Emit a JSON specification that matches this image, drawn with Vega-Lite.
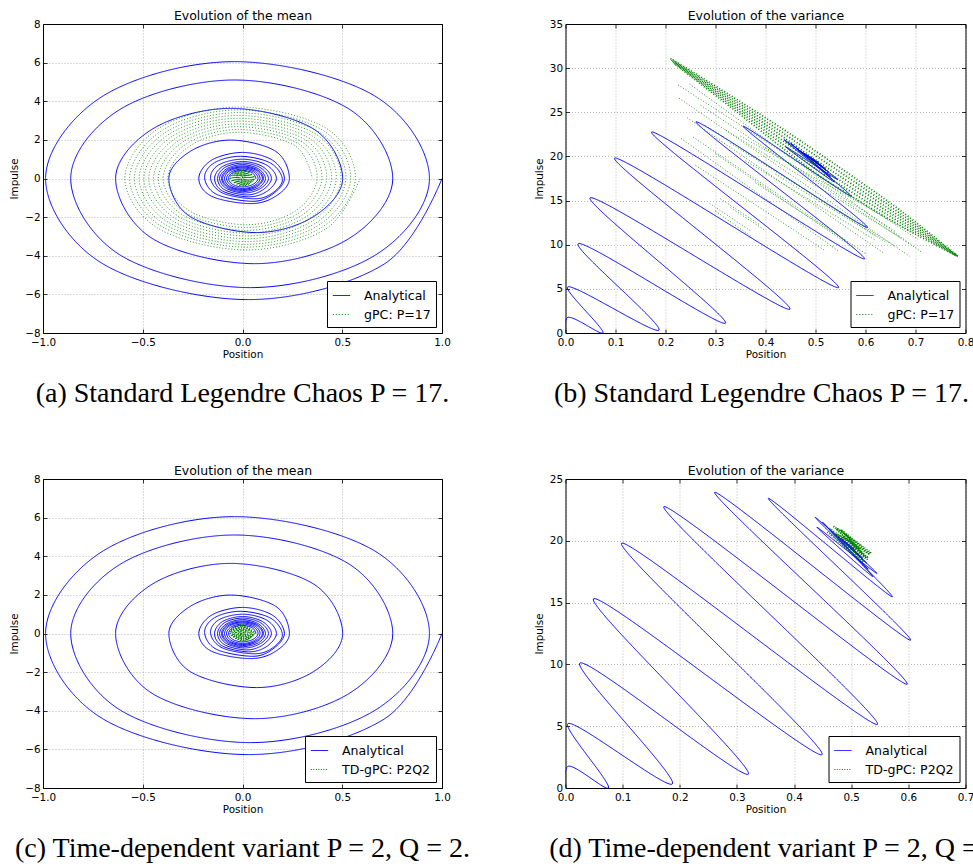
{
"$schema": "https://vega.github.io/schema/vega-lite/v6.json",
"background": "white",
"padding": {"left": 9, "top": 9, "right": 0, "bottom": 0},
"columns": 2,
"align": "each",
"bounds": "flush",
"spacing": {"row": 146, "column": 123.5},
"resolve": {"scale": {"color": "independent", "strokeDash": "independent", "x": "independent", "y": "independent"}},
"datasets": {
"mean_an": [{"i":0,"x":1.0,"y":0},{"i":1,"x":0.71,"y":-4.43},{"i":2,"x":0.03,"y":-6.27},{"i":3,"x":-0.698,"y":-4.43},{"i":4,"x":-0.987,"y":0},{"i":5,"x":-0.698,"y":4.28},{"i":6,"x":-0.04,"y":6.05},{"i":7,"x":0.662,"y":4.28},{"i":8,"x":0.937,"y":0},{"i":9,"x":0.662,"y":-3.99},{"i":10,"x":0.04,"y":-5.65},{"i":11,"x":-0.609,"y":-3.99},{"i":12,"x":-0.861,"y":0},{"i":13,"x":-0.609,"y":3.61},{"i":14,"x":-0.04,"y":5.1},{"i":15,"x":0.532,"y":3.61},{"i":16,"x":0.753,"y":0},{"i":17,"x":0.532,"y":-3.12},{"i":18,"x":0.06,"y":-4.41},{"i":19,"x":-0.45,"y":-3.12},{"i":20,"x":-0.636,"y":0},{"i":21,"x":-0.45,"y":2.57},{"i":22,"x":-0.06,"y":3.63},{"i":23,"x":0.355,"y":2.57},{"i":24,"x":0.502,"y":0},{"i":25,"x":0.355,"y":-1.98},{"i":26,"x":0.07,"y":-2.8},{"i":27,"x":-0.261,"y":-1.98},{"i":28,"x":-0.369,"y":0},{"i":29,"x":-0.261,"y":1.41},{"i":30,"x":-0.06,"y":1.99},{"i":31,"x":0.166,"y":1.41},{"i":32,"x":0.235,"y":0},{"i":33,"x":0.166,"y":-0.92},{"i":34,"x":0.04,"y":-1.3},{"i":35,"x":-0.155,"y":-0.92},{"i":36,"x":-0.219,"y":0},{"i":37,"x":-0.155,"y":0.95},{"i":38,"x":0,"y":1.35},{"i":39,"x":0.15,"y":0.95},{"i":40,"x":0.21,"y":0},{"i":41,"x":0.15,"y":-0.82},{"i":42,"x":0.05,"y":-1.18},{"i":43,"x":-0.13,"y":-0.82},{"i":44,"x":-0.19,"y":0.05},{"i":45,"x":-0.14,"y":0.82},{"i":46,"x":-0.01,"y":1.15},{"i":47,"x":0.14,"y":0.8},{"i":48,"x":0.2,"y":-0.05},{"i":49,"x":0.15,"y":-0.75},{"i":50,"x":0.06,"y":-1.05},{"i":51,"x":-0.1,"y":-0.75},{"i":52,"x":-0.16,"y":0},{"i":53,"x":-0.12,"y":0.7},{"i":54,"x":0,"y":1.0},{"i":55,"x":0.12,"y":0.7},{"i":56,"x":0.17,"y":0},{"i":57,"x":0.12,"y":-0.68},{"i":58,"x":0.03,"y":-0.95},{"i":59,"x":-0.1,"y":-0.65},{"i":60,"x":-0.14,"y":0},{"i":61,"x":-0.1,"y":0.62},{"i":62,"x":0,"y":0.88},{"i":63,"x":0.1,"y":0.62},{"i":64,"x":0.145,"y":0},{"i":65,"x":0.1,"y":-0.6},{"i":66,"x":0.02,"y":-0.85},{"i":67,"x":-0.09,"y":-0.58},{"i":68,"x":-0.125,"y":0},{"i":69,"x":-0.09,"y":0.56},{"i":70,"x":0,"y":0.8},{"i":71,"x":0.09,"y":0.56},{"i":72,"x":0.13,"y":0},{"i":73,"x":0.09,"y":-0.52},{"i":74,"x":0.01,"y":-0.75},{"i":75,"x":-0.08,"y":-0.52},{"i":76,"x":-0.115,"y":0},{"i":77,"x":-0.08,"y":0.5},{"i":78,"x":0,"y":0.72},{"i":79,"x":0.08,"y":0.5},{"i":80,"x":0.115,"y":0},{"i":81,"x":0.08,"y":-0.48},{"i":82,"x":0,"y":-0.68},{"i":83,"x":-0.075,"y":-0.47},{"i":84,"x":-0.105,"y":0},{"i":85,"x":-0.075,"y":0.46},{"i":86,"x":0,"y":0.65},{"i":87,"x":0.075,"y":0.45},{"i":88,"x":0.105,"y":0},{"i":89,"x":0.07,"y":-0.44},{"i":90,"x":0,"y":-0.62},{"i":91,"x":-0.07,"y":-0.43},{"i":92,"x":-0.1,"y":0},{"i":93,"x":-0.07,"y":0.42},{"i":94,"x":0,"y":0.6},{"i":95,"x":0.07,"y":0.42},{"i":96,"x":0.1,"y":0},{"i":97,"x":0.065,"y":-0.4},{"i":98,"x":0,"y":-0.57},{"i":99,"x":-0.065,"y":-0.4},{"i":100,"x":-0.09,"y":0},{"i":101,"x":-0.065,"y":0.39},{"i":102,"x":0,"y":0.55},{"i":103,"x":0.063,"y":0.38},{"i":104,"x":0.088,"y":0},{"i":105,"x":0.06,"y":-0.36},{"i":106,"x":0,"y":-0.52},{"i":107,"x":-0.058,"y":-0.35},{"i":108,"x":-0.08,"y":0},{"i":109,"x":-0.057,"y":0.34},{"i":110,"x":0,"y":0.49},{"i":111,"x":0.056,"y":0.34},{"i":112,"x":0.078,"y":0},{"i":113,"x":0.053,"y":-0.3},{"i":114,"x":0,"y":-0.44},{"i":115,"x":-0.05,"y":-0.3},{"i":116,"x":-0.07,"y":0},{"i":117,"x":-0.05,"y":0.3},{"i":118,"x":0,"y":0.42},{"i":119,"x":0.05,"y":0.29},{"i":120,"x":0.068,"y":0}],
"mean_gpc": [{"i":0,"x":0.59,"y":0},{"i":1,"x":0.417,"y":-2.616},{"i":2,"x":0.02,"y":-3.7},{"i":3,"x":-0.417,"y":-2.616},{"i":4,"x":-0.59,"y":0},{"i":5,"x":-0.417,"y":2.616},{"i":6,"x":-0.02,"y":3.7},{"i":7,"x":0.417,"y":2.616},{"i":8,"x":0.566,"y":0},{"i":9,"x":0.4,"y":-2.513},{"i":10,"x":0.02,"y":-3.555},{"i":11,"x":-0.4,"y":-2.513},{"i":12,"x":-0.566,"y":0},{"i":13,"x":-0.4,"y":2.513},{"i":14,"x":-0.02,"y":3.555},{"i":15,"x":0.4,"y":2.513},{"i":16,"x":0.542,"y":0},{"i":17,"x":0.383,"y":-2.411},{"i":18,"x":0.02,"y":-3.41},{"i":19,"x":-0.383,"y":-2.411},{"i":20,"x":-0.542,"y":0},{"i":21,"x":-0.383,"y":2.411},{"i":22,"x":-0.02,"y":3.41},{"i":23,"x":0.383,"y":2.411},{"i":24,"x":0.518,"y":0},{"i":25,"x":0.366,"y":-2.308},{"i":26,"x":0.02,"y":-3.265},{"i":27,"x":-0.366,"y":-2.308},{"i":28,"x":-0.518,"y":0},{"i":29,"x":-0.366,"y":2.308},{"i":30,"x":-0.02,"y":3.265},{"i":31,"x":0.366,"y":2.308},{"i":32,"x":0.494,"y":0},{"i":33,"x":0.349,"y":-2.206},{"i":34,"x":0.02,"y":-3.12},{"i":35,"x":-0.349,"y":-2.206},{"i":36,"x":-0.494,"y":0},{"i":37,"x":-0.349,"y":2.206},{"i":38,"x":-0.02,"y":3.12},{"i":39,"x":0.349,"y":2.206},{"i":40,"x":0.47,"y":0},{"i":41,"x":0.332,"y":-2.103},{"i":42,"x":0.02,"y":-2.975},{"i":43,"x":-0.332,"y":-2.103},{"i":44,"x":-0.47,"y":0},{"i":45,"x":-0.332,"y":2.103},{"i":46,"x":-0.02,"y":2.975},{"i":47,"x":0.332,"y":2.103},{"i":48,"x":0.446,"y":0},{"i":49,"x":0.315,"y":-2.001},{"i":50,"x":0.02,"y":-2.83},{"i":51,"x":-0.315,"y":-2.001},{"i":52,"x":-0.446,"y":0},{"i":53,"x":-0.315,"y":2.001},{"i":54,"x":-0.02,"y":2.83},{"i":55,"x":0.315,"y":2.001},{"i":56,"x":0.422,"y":0},{"i":57,"x":0.298,"y":-1.898},{"i":58,"x":0.02,"y":-2.685},{"i":59,"x":-0.298,"y":-1.898},{"i":60,"x":-0.422,"y":0},{"i":61,"x":-0.298,"y":1.898},{"i":62,"x":-0.02,"y":2.685},{"i":63,"x":0.298,"y":1.898},{"i":64,"x":0.398,"y":0},{"i":65,"x":0.281,"y":-1.796},{"i":66,"x":0.02,"y":-2.54},{"i":67,"x":-0.281,"y":-1.796},{"i":68,"x":-0.398,"y":0},{"i":69,"x":-0.281,"y":1.796},{"i":70,"x":-0.02,"y":2.54},{"i":71,"x":0.281,"y":1.796},{"i":72,"x":0.374,"y":0},{"i":73,"x":0.264,"y":-1.693},{"i":74,"x":0.02,"y":-2.395},{"i":75,"x":-0.264,"y":-1.693},{"i":76,"x":-0.374,"y":0},{"i":77,"x":-0.264,"y":1.693},{"i":78,"x":-0.02,"y":2.395},{"i":79,"x":0.264,"y":1.693},{"i":80,"x":0.35,"y":0}],
"blob": [{"i":0,"x":0.065,"y":0.03},{"i":1,"x":0.005,"y":-0.39},{"i":2,"x":-0.065,"y":0.03},{"i":3,"x":-0.005,"y":0.45},{"i":4,"x":0.059,"y":0.03},{"i":5,"x":0.005,"y":-0.35},{"i":6,"x":-0.059,"y":0.03},{"i":7,"x":-0.005,"y":0.41},{"i":8,"x":0.053,"y":0.03},{"i":9,"x":0.005,"y":-0.31},{"i":10,"x":-0.053,"y":0.03},{"i":11,"x":-0.005,"y":0.37},{"i":12,"x":0.047,"y":0.03},{"i":13,"x":0.005,"y":-0.27},{"i":14,"x":-0.047,"y":0.03},{"i":15,"x":-0.005,"y":0.33},{"i":16,"x":0.041,"y":0.03},{"i":17,"x":0.005,"y":-0.23},{"i":18,"x":-0.041,"y":0.03},{"i":19,"x":-0.005,"y":0.29},{"i":20,"x":0.035,"y":0.03},{"i":21,"x":0.005,"y":-0.19},{"i":22,"x":-0.035,"y":0.03},{"i":23,"x":-0.005,"y":0.25},{"i":24,"x":0.029,"y":0.03},{"i":25,"x":0.005,"y":-0.15},{"i":26,"x":-0.029,"y":0.03},{"i":27,"x":-0.005,"y":0.21},{"i":28,"x":0.023,"y":0.03},{"i":29,"x":0.005,"y":-0.11},{"i":30,"x":-0.023,"y":0.03},{"i":31,"x":-0.005,"y":0.17},{"i":32,"x":0.017,"y":0.03},{"i":33,"x":0.005,"y":-0.07},{"i":34,"x":-0.017,"y":0.03},{"i":35,"x":-0.005,"y":0.13},{"i":36,"x":0.011,"y":0.03},{"i":37,"x":0.005,"y":-0.03},{"i":38,"x":-0.011,"y":0.03},{"i":39,"x":-0.005,"y":0.09},{"i":40,"x":0.005,"y":0.03}],
"var_an": [{"i":0,"x":0.0,"y":0.0},{"i":1,"x":0.004,"y":1.75},{"i":2,"x":0.075,"y":0.0},{"i":3,"x":0.004,"y":5.2},{"i":4,"x":0.187,"y":0.33},{"i":5,"x":0.025,"y":10.1},{"i":6,"x":0.32,"y":1.12},{"i":7,"x":0.049,"y":15.3},{"i":8,"x":0.449,"y":2.7},{"i":9,"x":0.098,"y":19.8},{"i":10,"x":0.546,"y":5.15},{"i":11,"x":0.172,"y":22.76},{"i":12,"x":0.598,"y":8.4},{"i":13,"x":0.261,"y":23.92},{"i":14,"x":0.604,"y":11.96},{"i":15,"x":0.355,"y":23.43},{"i":16,"x":0.572,"y":15.47},{"i":17,"x":0.437,"y":21.9},{"i":18,"x":0.545,"y":17.36},{"i":19,"x":0.44,"y":21.1},{"i":20,"x":0.538,"y":17.1},{"i":21,"x":0.45,"y":21.5},{"i":22,"x":0.53,"y":17.7},{"i":23,"x":0.462,"y":20.9},{"i":24,"x":0.527,"y":18.2},{"i":25,"x":0.47,"y":20.6},{"i":26,"x":0.52,"y":18.6},{"i":27,"x":0.476,"y":20.4},{"i":28,"x":0.513,"y":18.9},{"i":29,"x":0.482,"y":20.2},{"i":30,"x":0.506,"y":19.3},{"i":31,"x":0.49,"y":19.9}],
"vb_dense": [{"g":0,"i":0,"x":0.21,"y":31.1},{"g":0,"i":1,"x":0.33,"y":26.9},{"g":0,"i":2,"x":0.44,"y":22.9},{"g":0,"i":3,"x":0.508,"y":20.3},{"g":0,"i":4,"x":0.575,"y":17.7},{"g":0,"i":5,"x":0.674,"y":13.7},{"g":0,"i":6,"x":0.787,"y":8.6},{"g":1,"i":0,"x":0.212,"y":30.96},{"g":1,"i":1,"x":0.33,"y":26.64},{"g":1,"i":2,"x":0.44,"y":22.46},{"g":1,"i":3,"x":0.508,"y":19.8},{"g":1,"i":4,"x":0.575,"y":17.24},{"g":1,"i":5,"x":0.674,"y":13.36},{"g":1,"i":6,"x":0.7856,"y":8.64},{"g":2,"i":0,"x":0.214,"y":30.82},{"g":2,"i":1,"x":0.33,"y":26.38},{"g":2,"i":2,"x":0.44,"y":22.02},{"g":2,"i":3,"x":0.508,"y":19.3},{"g":2,"i":4,"x":0.575,"y":16.78},{"g":2,"i":5,"x":0.674,"y":13.02},{"g":2,"i":6,"x":0.7842,"y":8.68},{"g":3,"i":0,"x":0.216,"y":30.68},{"g":3,"i":1,"x":0.33,"y":26.12},{"g":3,"i":2,"x":0.44,"y":21.58},{"g":3,"i":3,"x":0.508,"y":18.8},{"g":3,"i":4,"x":0.575,"y":16.32},{"g":3,"i":5,"x":0.674,"y":12.68},{"g":3,"i":6,"x":0.7828,"y":8.72},{"g":4,"i":0,"x":0.218,"y":30.54},{"g":4,"i":1,"x":0.33,"y":25.86},{"g":4,"i":2,"x":0.44,"y":21.14},{"g":4,"i":3,"x":0.508,"y":18.3},{"g":4,"i":4,"x":0.575,"y":15.86},{"g":4,"i":5,"x":0.674,"y":12.34},{"g":4,"i":6,"x":0.7814,"y":8.76},{"g":5,"i":0,"x":0.22,"y":30.4},{"g":5,"i":1,"x":0.33,"y":25.6},{"g":5,"i":2,"x":0.44,"y":20.7},{"g":5,"i":3,"x":0.508,"y":17.8},{"g":5,"i":4,"x":0.575,"y":15.4},{"g":5,"i":5,"x":0.674,"y":12.0},{"g":5,"i":6,"x":0.78,"y":8.8}],
"vb_light": [{"g":0,"i":0,"x":0.225,"y":28.1},{"g":0,"i":1,"x":0.705,"y":10.6},{"g":1,"i":0,"x":0.248,"y":28.2},{"g":1,"i":1,"x":0.711,"y":9.2},{"g":2,"i":0,"x":0.227,"y":26.6},{"g":2,"i":1,"x":0.688,"y":8.7},{"g":3,"i":0,"x":0.243,"y":24.4},{"g":3,"i":1,"x":0.638,"y":9.0},{"g":4,"i":0,"x":0.231,"y":22.05},{"g":4,"i":1,"x":0.548,"y":9.2},{"g":5,"i":0,"x":0.255,"y":22.2},{"g":5,"i":1,"x":0.6,"y":9.0},{"g":6,"i":0,"x":0.3,"y":20.3},{"g":6,"i":1,"x":0.58,"y":9.5},{"g":7,"i":0,"x":0.33,"y":21.5},{"g":7,"i":1,"x":0.66,"y":9.8},{"g":8,"i":0,"x":0.27,"y":25.8},{"g":8,"i":1,"x":0.69,"y":10.0},{"g":9,"i":0,"x":0.288,"y":14.7},{"g":9,"i":1,"x":0.372,"y":11.5},{"g":10,"i":0,"x":0.3,"y":13.8},{"g":10,"i":1,"x":0.37,"y":11.0},{"g":11,"i":0,"x":0.31,"y":15.2},{"g":11,"i":1,"x":0.39,"y":12.2},{"g":12,"i":0,"x":0.33,"y":14.2},{"g":12,"i":1,"x":0.4,"y":11.6},{"g":13,"i":0,"x":0.36,"y":19.5},{"g":13,"i":1,"x":0.62,"y":10.5},{"g":14,"i":0,"x":0.4,"y":21.0},{"g":14,"i":1,"x":0.66,"y":11.5},{"g":15,"i":0,"x":0.28,"y":23.5},{"g":15,"i":1,"x":0.64,"y":10.3},{"g":16,"i":0,"x":0.32,"y":23.0},{"g":16,"i":1,"x":0.67,"y":10.8},{"g":17,"i":0,"x":0.35,"y":22.3},{"g":17,"i":1,"x":0.7,"y":11.2},{"g":18,"i":0,"x":0.26,"y":19.0},{"g":18,"i":1,"x":0.52,"y":9.3},{"g":19,"i":0,"x":0.38,"y":17.0},{"g":19,"i":1,"x":0.56,"y":10.5},{"g":20,"i":0,"x":0.42,"y":18.0},{"g":20,"i":1,"x":0.62,"y":11.0}],
"vd_blob": [{"i":0,"x":0.458,"y":20.7},{"i":1,"x":0.522,"y":18.3},{"i":2,"x":0.462,"y":21.0},{"i":3,"x":0.53,"y":18.6},{"i":4,"x":0.468,"y":21.2},{"i":5,"x":0.535,"y":19.0},{"i":6,"x":0.47,"y":20.6},{"i":7,"x":0.528,"y":18.5},{"i":8,"x":0.474,"y":21.0},{"i":9,"x":0.532,"y":18.9},{"i":10,"x":0.478,"y":20.5},{"i":11,"x":0.524,"y":18.7},{"i":12,"x":0.482,"y":20.9},{"i":13,"x":0.527,"y":19.1},{"i":14,"x":0.486,"y":20.3},{"i":15,"x":0.52,"y":19.0},{"i":16,"x":0.49,"y":20.5},{"i":17,"x":0.515,"y":19.3},{"i":18,"x":0.494,"y":20.0}]
},
"concat": [
{
"width": 399, "height": 309,
"title": {"text": "(a) Standard Legendre Chaos P = 17.", "orient": "bottom", "anchor": "middle", "frame": "group", "font": "Liberation Serif", "fontSize": 28, "fontWeight": "normal", "color": "#000", "offset": 20},
"resolve": {"axis": {"x": "independent", "y": "independent"}},
"layer": [
{"data": {"name": "mean_an"}, "mark": {"type": "line", "interpolate": "cardinal", "tension": 0, "strokeWidth": 1, "clip": true},
"encoding": {
"x": {"field": "x", "type": "quantitative", "scale": {"domain": [-1, 1], "nice": false, "zero": false}, "axis": {"title": "Position", "values": [-1, -0.5, 0, 0.5, 1], "format": ".1f", "grid": true}},
"y": {"field": "y", "type": "quantitative", "scale": {"domain": [-8, 8], "nice": false, "zero": false}, "axis": {"title": "Impulse", "values": [-8, -6, -4, -2, 0, 2, 4, 6, 8], "format": "d", "grid": true}},
"order": {"field": "i"},
"color": {"datum": "Analytical", "scale": {"domain": ["Analytical", "gPC: P=17"], "range": ["#0000ff", "#008000"]}, "legend": {"title": null, "encode": {"symbols": {"update": {"stroke": {"signal": "datum.label === 'Analytical' ? '#0000ff' : '#008000'"}, "strokeDash": {"signal": "datum.label === 'Analytical' ? [1, 0] : [1, 2]"}, "opacity": {"value": 1}}}}}},
"strokeDash": {"datum": "Analytical", "scale": {"domain": ["Analytical", "gPC: P=17"], "range": [[1, 0], [1, 2]]}, "legend": null}
}},
{"data": {"name": "mean_gpc"}, "mark": {"type": "line", "interpolate": "cardinal", "tension": 0, "strokeWidth": 1, "opacity": 0.8, "clip": true},
"encoding": {
"x": {"field": "x", "type": "quantitative", "axis": {"orient": "top", "title": "Evolution of the mean", "labels": false, "grid": false, "values": [-1, -0.5, 0, 0.5, 1], "titleFontSize": 12.5, "titlePadding": 1}},
"y": {"field": "y", "type": "quantitative", "axis": {"orient": "right", "title": null, "labels": false, "grid": false, "values": [-8, -6, -4, -2, 0, 2, 4, 6, 8]}},
"order": {"field": "i"},
"color": {"datum": "gPC: P=17"},
"strokeDash": {"datum": "gPC: P=17"}
}},
{"data": {"name": "blob"}, "mark": {"type": "line", "interpolate": "cardinal", "tension": 0, "strokeWidth": 1.5, "clip": true},
"encoding": {
"x": {"field": "x", "type": "quantitative", "axis": null},
"y": {"field": "y", "type": "quantitative", "axis": null},
"order": {"field": "i"},
"color": {"datum": "gPC: P=17"},
"strokeDash": {"datum": "gPC: P=17"}
}}
]
},
{
"width": 400, "height": 309,
"title": {"text": "(b) Standard Legendre Chaos P = 17.", "orient": "bottom", "anchor": "middle", "frame": "group", "font": "Liberation Serif", "fontSize": 28, "fontWeight": "normal", "color": "#000", "offset": 20, "dx": -4},
"resolve": {"axis": {"x": "independent", "y": "independent"}},
"layer": [
{"data": {"name": "var_an"}, "mark": {"type": "line", "interpolate": "catmull-rom", "strokeWidth": 1, "clip": true},
"encoding": {
"x": {"field": "x", "type": "quantitative", "scale": {"domain": [0, 0.8], "nice": false, "zero": false}, "axis": {"title": "Position", "values": [0, 0.1, 0.2, 0.3, 0.4, 0.5, 0.6, 0.7, 0.8], "format": ".1f", "grid": true}},
"y": {"field": "y", "type": "quantitative", "scale": {"domain": [0, 35], "nice": false, "zero": false}, "axis": {"title": "Impulse", "values": [0, 5, 10, 15, 20, 25, 30, 35], "format": "d", "grid": true}},
"order": {"field": "i"},
"color": {"datum": "Analytical", "scale": {"domain": ["Analytical", "gPC: P=17"], "range": ["#0000ff", "#008000"]}, "legend": {"title": null, "encode": {"symbols": {"update": {"stroke": {"signal": "datum.label === 'Analytical' ? '#0000ff' : '#008000'"}, "strokeDash": {"signal": "datum.label === 'Analytical' ? [1, 0] : [1, 2]"}, "opacity": {"value": 1}}}}}},
"strokeDash": {"datum": "Analytical", "scale": {"domain": ["Analytical", "gPC: P=17"], "range": [[1, 0], [1, 2]]}, "legend": null}
}},
{"data": {"name": "vb_light"}, "mark": {"type": "line", "strokeWidth": 1, "opacity": 0.8, "clip": true},
"encoding": {
"x": {"field": "x", "type": "quantitative", "axis": {"orient": "top", "title": "Evolution of the variance", "labels": false, "grid": false, "values": [0, 0.1, 0.2, 0.3, 0.4, 0.5, 0.6, 0.7, 0.8], "titleFontSize": 12.5, "titlePadding": 1}},
"y": {"field": "y", "type": "quantitative", "axis": {"orient": "right", "title": null, "labels": false, "grid": false, "values": [0, 5, 10, 15, 20, 25, 30, 35]}},
"order": {"field": "i"},
"detail": {"field": "g", "type": "nominal"},
"color": {"datum": "gPC: P=17"},
"strokeDash": {"datum": "gPC: P=17"}
}},
{"data": {"name": "vb_dense"}, "mark": {"type": "line", "interpolate": "catmull-rom", "strokeWidth": 1.8, "clip": true},
"encoding": {
"x": {"field": "x", "type": "quantitative", "axis": null},
"y": {"field": "y", "type": "quantitative", "axis": null},
"order": {"field": "i"},
"detail": {"field": "g", "type": "nominal"},
"color": {"datum": "gPC: P=17"},
"strokeDash": {"datum": "gPC: P=17"}
}}
]
},
{
"width": 399, "height": 309,
"title": {"text": "(c) Time-dependent variant P = 2, Q = 2.", "orient": "bottom", "anchor": "middle", "frame": "group", "font": "Liberation Serif", "fontSize": 28, "fontWeight": "normal", "color": "#000", "offset": 20},
"resolve": {"axis": {"x": "independent", "y": "independent"}},
"layer": [
{"data": {"name": "mean_an"}, "mark": {"type": "line", "interpolate": "cardinal", "tension": 0, "strokeWidth": 1, "clip": true},
"encoding": {
"x": {"field": "x", "type": "quantitative", "scale": {"domain": [-1, 1], "nice": false, "zero": false}, "axis": {"title": "Position", "values": [-1, -0.5, 0, 0.5, 1], "format": ".1f", "grid": true}},
"y": {"field": "y", "type": "quantitative", "scale": {"domain": [-8, 8], "nice": false, "zero": false}, "axis": {"title": "Impulse", "values": [-8, -6, -4, -2, 0, 2, 4, 6, 8], "format": "d", "grid": true}},
"order": {"field": "i"},
"color": {"datum": "Analytical", "scale": {"domain": ["Analytical", "TD-gPC: P2Q2"], "range": ["#0000ff", "#008000"]}, "legend": {"title": null, "encode": {"symbols": {"update": {"stroke": {"signal": "datum.label === 'Analytical' ? '#0000ff' : '#008000'"}, "strokeDash": {"signal": "datum.label === 'Analytical' ? [1, 0] : [1, 2]"}, "opacity": {"value": 1}}}}}},
"strokeDash": {"datum": "Analytical", "scale": {"domain": ["Analytical", "TD-gPC: P2Q2"], "range": [[1, 0], [1, 1.5]]}, "legend": null}
}},
{"data": {"name": "blob"}, "mark": {"type": "line", "interpolate": "cardinal", "tension": 0, "strokeWidth": 1.5, "clip": true},
"encoding": {
"x": {"field": "x", "type": "quantitative", "axis": {"orient": "top", "title": "Evolution of the mean", "labels": false, "grid": false, "values": [-1, -0.5, 0, 0.5, 1], "titleFontSize": 12.5, "titlePadding": 1}},
"y": {"field": "y", "type": "quantitative", "axis": {"orient": "right", "title": null, "labels": false, "grid": false, "values": [-8, -6, -4, -2, 0, 2, 4, 6, 8]}},
"order": {"field": "i"},
"color": {"datum": "TD-gPC: P2Q2"},
"strokeDash": {"datum": "TD-gPC: P2Q2"}
}}
]
},
{
"width": 400, "height": 309,
"title": {"text": "(d) Time-dependent variant P = 2, Q = 2.", "orient": "bottom", "anchor": "middle", "frame": "group", "font": "Liberation Serif", "fontSize": 28, "fontWeight": "normal", "color": "#000", "offset": 20, "dx": 12},
"resolve": {"axis": {"x": "independent", "y": "independent"}},
"layer": [
{"data": {"name": "var_an"}, "mark": {"type": "line", "interpolate": "catmull-rom", "strokeWidth": 1, "clip": true},
"encoding": {
"x": {"field": "x", "type": "quantitative", "scale": {"domain": [0, 0.7], "nice": false, "zero": false}, "axis": {"title": "Position", "values": [0, 0.1, 0.2, 0.3, 0.4, 0.5, 0.6, 0.7], "format": ".1f", "grid": true}},
"y": {"field": "y", "type": "quantitative", "scale": {"domain": [0, 25], "nice": false, "zero": false}, "axis": {"title": "Impulse", "values": [0, 5, 10, 15, 20, 25], "format": "d", "grid": true}},
"order": {"field": "i"},
"color": {"datum": "Analytical", "scale": {"domain": ["Analytical", "TD-gPC: P2Q2"], "range": ["#0000ff", "#008000"]}, "legend": {"title": null, "encode": {"symbols": {"update": {"stroke": {"signal": "datum.label === 'Analytical' ? '#0000ff' : '#008000'"}, "strokeDash": {"signal": "datum.label === 'Analytical' ? [1, 0] : [1, 2]"}, "opacity": {"value": 1}}}}}},
"strokeDash": {"datum": "Analytical", "scale": {"domain": ["Analytical", "TD-gPC: P2Q2"], "range": [[1, 0], [1, 1.5]]}, "legend": null}
}},
{"data": {"name": "vd_blob"}, "mark": {"type": "line", "interpolate": "catmull-rom", "strokeWidth": 1.5, "clip": true},
"encoding": {
"x": {"field": "x", "type": "quantitative", "axis": {"orient": "top", "title": "Evolution of the variance", "labels": false, "grid": false, "values": [0, 0.1, 0.2, 0.3, 0.4, 0.5, 0.6, 0.7], "titleFontSize": 12.5, "titlePadding": 1}},
"y": {"field": "y", "type": "quantitative", "axis": {"orient": "right", "title": null, "labels": false, "grid": false, "values": [0, 5, 10, 15, 20, 25]}},
"order": {"field": "i"},
"color": {"datum": "TD-gPC: P2Q2"},
"strokeDash": {"datum": "TD-gPC: P2Q2"}
}}
]
}
],
"config": {
"view": {"stroke": "#000", "strokeWidth": 1},
"font": "DejaVu Sans",
"axis": {"labelFont": "DejaVu Sans", "labelFontSize": 10.4, "labelColor": "#000", "titleFont": "DejaVu Sans", "titleFontSize": 10.4, "titleFontWeight": "normal", "titleColor": "#000", "domain": false, "ticks": true, "tickColor": "#000", "tickSize": -4, "tickWidth": 0.8, "gridColor": "#000", "gridOpacity": 0.35, "gridDash": [1, 2], "gridWidth": 0.8, "labelFlush": false, "labelOverlap": false},
"axisX": {"labelPadding": 8, "titlePadding": 2},
"axisY": {"labelPadding": 7, "titlePadding": 5},
"legend": {"orient": "bottom-right", "offset": 6, "strokeColor": "#000", "fillColor": "#fff", "padding": 5, "labelFont": "DejaVu Sans", "labelFontSize": 12.6, "labelColor": "#000", "symbolType": "stroke", "symbolSize": 300, "symbolStrokeWidth": 1, "symbolOpacity": 1, "labelOffset": 13, "rowPadding": 2, "cornerRadius": 0}
}
}
